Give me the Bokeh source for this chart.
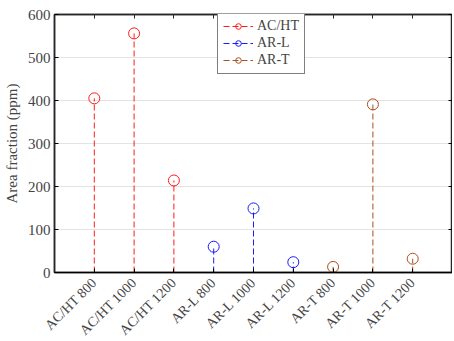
import math
from bokeh.plotting import figure
from bokeh.models import (FactorRange, Range1d, Legend, LegendItem, FixedTicker,
                          CategoricalAxis, LinearAxis)
from bokeh.embed import file_html
from bokeh.resources import INLINE

categories = ["AC/HT 800", "AC/HT 1000", "AC/HT 1200",
              "AR-L 800", "AR-L 1000", "AR-L 1200",
              "AR-T 800", "AR-T 1000", "AR-T 1200"]
values = [405, 556, 214, 60, 149, 24, 13, 391, 32]
groups = ["AC/HT", "AC/HT", "AC/HT", "AR-L", "AR-L", "AR-L", "AR-T", "AR-T", "AR-T"]
series_names = ["AC/HT", "AR-L", "AR-T"]
series_colors = ["#FF1A1A", "#1A1AFF", "#A8501F"]
y_ticks = [0, 100, 200, 300, 400, 500, 600]

FONT = "'Liberation Serif', 'Times New Roman', serif"

p = figure(x_range=FactorRange(factors=categories, range_padding=0.5, range_padding_units="absolute"),
           y_range=Range1d(0, 600),
           frame_width=398, frame_height=258,
           min_border_left=46, min_border_right=0, min_border_top=14, min_border_bottom=69,
           output_backend="svg", toolbar_location=None, background_fill_color="white",
           border_fill_color="white", outline_line_color="#262626", outline_line_width=1.5)

p.xgrid.grid_line_color = None
p.ygrid.grid_line_color = "#E3E3E3"
p.ygrid.grid_line_width = 1
p.yaxis.ticker = FixedTicker(ticks=y_ticks)

items = []
for name, color in zip(series_names, series_colors):
    xs = [c for c, g in zip(categories, groups) if g == name]
    ys = [v for v, g in zip(values, groups) if g == name]
    seg = p.segment(x0=xs, y0=[0] * len(xs), x1=xs, y1=ys, line_color=color,
                    line_width=1, line_dash="6 3")
    sc = p.scatter(x=xs, y=ys, marker="circle", size=11, fill_color=None,
                   line_color=color, line_width=1)
    items.append(LegendItem(label=name, renderers=[seg, sc]))

legend = Legend(items=items, location=(163, 198), border_line_color="black",
                border_line_width=1, label_text_font=FONT, label_text_font_size="14px",
                glyph_width=30, glyph_height=14, spacing=1, padding=5, margin=0,
                label_standoff=4, label_height=14, background_fill_alpha=1)
p.add_layout(legend, "center")

p.yaxis.axis_label = "Area fraction (ppm)"
p.yaxis.axis_label_text_font = FONT
p.yaxis.axis_label_text_font_style = "normal"
p.yaxis.axis_label_text_font_size = "15px"
p.yaxis.major_label_text_font = FONT
p.yaxis.major_label_text_font_size = "15px"
p.yaxis.major_tick_in = 4
p.yaxis.major_tick_out = 0
p.yaxis.minor_tick_line_color = None
p.yaxis.axis_line_color = "#262626"
p.yaxis.axis_line_width = 1.5
p.yaxis.major_label_standoff = 4

p.xaxis.major_label_orientation = math.pi / 4
p.xaxis.major_label_text_font = FONT
p.xaxis.major_label_text_font_size = "14px"
p.xaxis.major_tick_in = 4
p.xaxis.major_tick_out = 0
p.xaxis.axis_line_color = "#000000"
p.xaxis.axis_line_width = 1.5
p.xaxis.major_label_standoff = 8

# top and right box sides with inward ticks (labels hidden)
top = CategoricalAxis(major_label_text_font_size="1px", major_label_text_color=None,
                      major_label_standoff=0, major_tick_in=4, major_tick_out=0,
                      axis_line_color="#262626", axis_line_width=1.5,
                      major_tick_line_color="#262626")
p.add_layout(top, "above")
right = LinearAxis(ticker=FixedTicker(ticks=y_ticks), major_label_text_font_size="1px",
                   major_label_text_color=None, major_label_standoff=0,
                   major_tick_in=4, major_tick_out=0, minor_tick_line_color=None,
                   axis_line_color="#262626", axis_line_width=1.5)
p.add_layout(right, "right")

open("out.html", "w").write(file_html(p, INLINE))
